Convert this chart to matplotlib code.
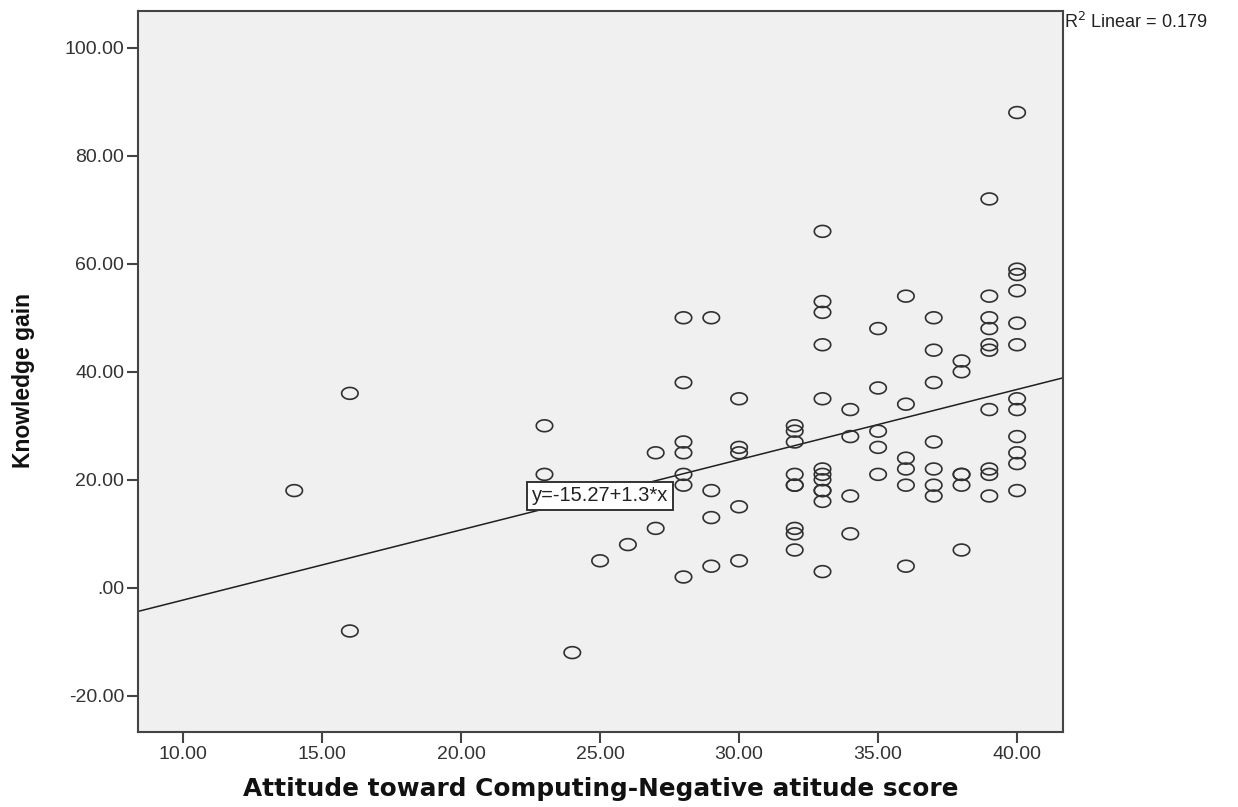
import numpy as np
import matplotlib
matplotlib.use("Agg")
import matplotlib.pyplot as plt
from matplotlib.path import Path

# ---- data ----
x_vals = [14,
          16, 16,
          23, 23,
          24,
          25,
          26,
          27, 27,
          28, 28, 28, 28, 28, 28, 28,
          29, 29, 29, 29,
          30, 30, 30, 30, 30,
          32, 32, 32, 32, 32, 32, 32, 32, 32,
          33, 33, 33, 33, 33, 33, 33, 33, 33, 33, 33, 33,
          34, 34, 34, 34,
          35, 35, 35, 35, 35,
          36, 36, 36, 36, 36, 36,
          37, 37, 37, 37, 37, 37, 37,
          38, 38, 38, 38, 38, 38,
          39, 39, 39, 39, 39, 39, 39, 39, 39, 39,
          40, 40, 40, 40, 40, 40, 40, 40, 40, 40, 40, 40]
y_vals = [18,
          36, -8,
          30, 21,
          -12,
          5,
          8,
          25, 11,
          50, 38, 27, 25, 21, 19, 2,
          50, 18, 13, 4,
          35, 26, 25, 15, 5,
          30, 29, 27, 21, 19, 19, 11, 10, 7,
          66, 53, 51, 45, 35, 22, 21, 20, 18, 18, 16, 3,
          33, 28, 17, 10,
          48, 37, 29, 26, 21,
          54, 34, 24, 22, 19, 4,
          50, 44, 38, 27, 22, 19, 17,
          42, 40, 21, 21, 19, 7,
          72, 54, 50, 48, 45, 44, 33, 22, 21, 17,
          88, 59, 58, 55, 49, 45, 35, 33, 28, 25, 23, 18]

fit_intercept = -15.27
fit_slope = 1.3
r2_text = "R$^2$ Linear = 0.179"
eq_text = "y=-15.27+1.3*x"

x_ticks = [10, 15, 20, 25, 30, 35, 40]
y_ticks = [-20, 0, 20, 40, 60, 80, 100]
x_label = "Attitude toward Computing-Negative atitude score"
y_label = "Knowledge gain"

def fmt(v):
    s = f"{v:.2f}"
    if s.startswith("0."):
        s = s[1:]
    return s

# ---- figure ----
W, H = 1238, 807
fig = plt.figure(figsize=(W / 100, H / 100), dpi=100)
fig.patch.set_facecolor("white")
ax = fig.add_axes([138 / W, 1 - 732 / H, (1063 - 138) / W, (732 - 11) / H])
ax.set_facecolor("#f0f0f0")

xlim = (8.38, 41.65)
ylim = (-26.7, 106.8)
ax.set_xlim(*xlim)
ax.set_ylim(*ylim)

# ellipse marker (wider than tall)
t = np.linspace(0, 2 * np.pi, 60)
ell = Path(np.column_stack([np.cos(t), 0.72 * np.sin(t)]), closed=True)

ax.scatter(x_vals, y_vals, marker=ell, s=140, facecolors="none",
           edgecolors="#303030", linewidths=1.2, zorder=3)

xl = np.array(xlim)
ax.plot(xl, fit_intercept + fit_slope * xl, color="#202020", lw=1.1, zorder=2)

ax.text(25.0, 17.0, eq_text, ha="center", va="center", fontsize=14.5,
        family="Liberation Sans", color="#222222", zorder=5,
        bbox=dict(boxstyle="square,pad=0.22", fc="white", ec="#333333", lw=1.4))

for s in ax.spines.values():
    s.set_color("#444444")
    s.set_linewidth(1.5)

ax.set_xticks(x_ticks)
ax.set_yticks(y_ticks)
ax.set_xticklabels([fmt(v) for v in x_ticks])
ax.set_yticklabels([fmt(v) for v in y_ticks])
ax.tick_params(direction="out", length=8, width=1.5, color="#444444",
               labelsize=14, labelcolor="#333333", pad=2)
for lab in ax.get_xticklabels() + ax.get_yticklabels():
    lab.set_family("Liberation Sans")

ax.set_xlabel(x_label, fontsize=17.8, fontweight="bold", family="DejaVu Sans",
              color="#111111", labelpad=10)
ax.set_ylabel(y_label, fontsize=16.5, fontweight="bold", family="Liberation Sans",
              color="#111111")
ax.yaxis.set_label_coords(-0.1115, 0.488)

fig.text(1064 / W, 1 - 22 / H, r2_text, ha="left", va="center", fontsize=13,
         family="Liberation Sans", color="#222222")

fig.savefig("out.png", dpi=100)
